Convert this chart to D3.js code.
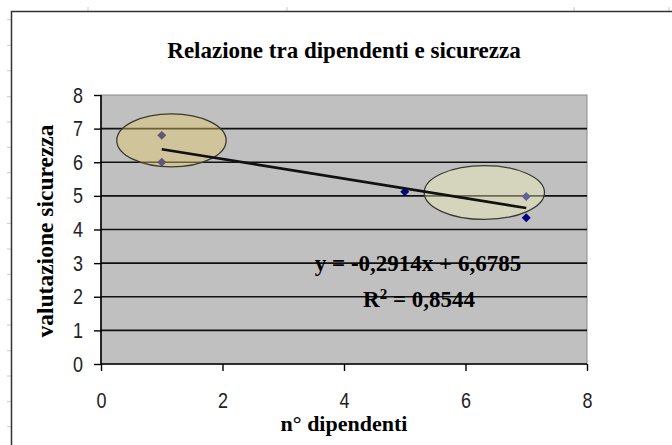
<!DOCTYPE html>
<html>
<head>
<meta charset="utf-8">
<script src="https://cdn.jsdelivr.net/npm/d3@7"></script>
<style>
  html, body { margin: 0; padding: 0; background: #fff; }
  svg { display: block; }
</style>
</head>
<body>
<svg id="chart" width="672" height="445"></svg>
<script>
// data
const dipendenti = [1, 1, 5, 7, 7];
const sicurezza = [6.8, 6.0, 5.12, 4.98, 4.35];
const xTicks = [0, 2, 4, 6, 8];
const yTicks = [0, 1, 2, 3, 4, 5, 6, 7, 8];
const gridValues = [1, 2, 3, 4, 5, 6, 7];
const trendSlope = -0.2914;
const trendIntercept = 6.6785;
const trendRange = [1, 7];
const equationLabel = 'y = -0,2914x + 6,6785';
const r2Value = '0,8544';
// highlighted groups: centre and radii in data units
const highlightX = [1.16, 6.31];
const highlightY = [6.65, 5.1];
const highlightRx = [0.9, 0.99];
const highlightRy = [0.79, 0.8];
const highlightFill = ['#e8cc66', '#f6f6bc'];
const highlightOpacity = [0.42, 0.4];
// spreadsheet cell marks around the chart frame
const rowMarks = [19.7, 45.3, 70.7, 96.7, 122, 147.3, 172.7, 198, 223.3, 249, 274.3, 299.7, 325, 350.7, 376, 401.7, 426.7];
const colMarks = [88, 287, 574, 669];

const svg = d3.select('#chart');
const width = 672, height = 445;
const plot = { left: 101, right: 587, top: 95, bottom: 364 };

const x = d3.scaleLinear().domain([0, 8]).range([plot.left, plot.right]);
const y = d3.scaleLinear().domain([0, 8]).range([plot.bottom, plot.top]);

svg.append('rect').attr('width', width).attr('height', height).attr('fill', '#fff');

// sheet marks
svg.append('g').selectAll('line').data(rowMarks).enter().append('line')
    .attr('x1', 7).attr('x2', 11).attr('y1', d => d).attr('y2', d => d)
    .attr('stroke', '#c8c8c8').attr('stroke-width', 1);
svg.append('g').selectAll('line').data(colMarks).enter().append('line')
    .attr('y1', 7).attr('y2', 11).attr('x1', d => d).attr('x2', d => d)
    .attr('stroke', '#c8c8c8').attr('stroke-width', 1);

// chart frame (left and top edges only are visible)
svg.append('path')
    .attr('d', `M11.5,${height} V11.5 H${width}`)
    .attr('fill', 'none').attr('stroke', '#333').attr('stroke-width', 1.5);

// plot area
svg.append('rect')
    .attr('x', plot.left).attr('y', plot.top)
    .attr('width', plot.right - plot.left).attr('height', plot.bottom - plot.top)
    .attr('fill', '#c0c0c0').attr('stroke', '#8a8a8a').attr('stroke-width', 1);

svg.append('g').selectAll('line').data(gridValues).enter().append('line')
    .attr('x1', plot.left).attr('x2', plot.right)
    .attr('y1', d => y(d)).attr('y2', d => y(d))
    .attr('stroke', '#111').attr('stroke-width', 1.6);

// axes - the sheet font is tall and narrow, so squeeze the digits
const tickFont = '"Liberation Sans", Arial, sans-serif';
const yAxis = svg.append('g')
    .attr('transform', `translate(${plot.left},0)`)
    .call(d3.axisLeft(y).tickValues(yTicks).tickSize(7).tickPadding(11).tickFormat(d3.format('d')));
const xAxis = svg.append('g')
    .attr('transform', `translate(0,${plot.bottom})`)
    .call(d3.axisBottom(x).tickValues(xTicks).tickSize(7).tickPadding(21).tickFormat(d3.format('d')));
[xAxis, yAxis].forEach(a => {
    a.select('.domain').attr('stroke', '#000').attr('stroke-width', 1.6);
    a.selectAll('.tick line').attr('stroke', '#000').attr('stroke-width', 1.4);
    a.selectAll('.tick text')
        .attr('fill', '#222')
        .attr('textLength', 10)
        .attr('lengthAdjust', 'spacingAndGlyphs')
        .style('font-family', tickFont)
        .style('font-size', '22px');
});
xAxis.select('.domain').attr('d', `M${plot.left},0H${plot.right}`);
yAxis.select('.domain').attr('d', `M0,${plot.top}V${plot.bottom}`);

// data points
svg.append('g').selectAll('path').data(dipendenti).enter().append('path')
    .attr('d', d3.symbol().type(d3.symbolSquare).size(40))
    .attr('transform', (d, i) => `translate(${x(d)},${y(sicurezza[i])}) rotate(45)`)
    .attr('fill', '#000080');

// highlight ellipses drawn over the points
highlightX.forEach((cx, i) => {
    svg.append('ellipse')
        .attr('cx', x(cx)).attr('cy', y(highlightY[i]))
        .attr('rx', x(highlightRx[i]) - x(0)).attr('ry', y(0) - y(highlightRy[i]))
        .attr('fill', highlightFill[i]).attr('fill-opacity', highlightOpacity[i])
        .attr('stroke', '#3a3a30').attr('stroke-width', 1.3);
});

// linear trendline
svg.append('line')
    .attr('x1', x(trendRange[0])).attr('y1', y(trendSlope * trendRange[0] + trendIntercept))
    .attr('x2', x(trendRange[1])).attr('y2', y(trendSlope * trendRange[1] + trendIntercept))
    .attr('stroke', '#111').attr('stroke-width', 2.6);

// equation labels
const serif = '"Liberation Serif", "Times New Roman", serif';
svg.append('text')
    .attr('x', 418).attr('y', 271)
    .attr('text-anchor', 'middle')
    .style('font-family', serif).style('font-weight', 'bold').style('font-size', '23px')
    .text(equationLabel);
const r2 = svg.append('text')
    .attr('x', 419).attr('y', 307)
    .attr('text-anchor', 'middle')
    .style('font-family', serif).style('font-weight', 'bold').style('font-size', '23px');
r2.append('tspan').text('R');
r2.append('tspan').attr('dy', -8).style('font-size', '15px').text('2');
r2.append('tspan').attr('dy', 8).text(' = ' + r2Value);

// titles
svg.append('text')
    .attr('x', 344).attr('y', 58)
    .attr('text-anchor', 'middle')
    .style('font-family', serif).style('font-weight', 'bold').style('font-size', '23px')
    .text('Relazione tra dipendenti e sicurezza');
svg.append('text')
    .attr('x', 344).attr('y', 431)
    .attr('text-anchor', 'middle')
    .style('font-family', serif).style('font-weight', 'bold').style('font-size', '22px')
    .text('n° dipendenti');
svg.append('text')
    .attr('transform', `translate(53,231) rotate(-90)`)
    .attr('text-anchor', 'middle')
    .style('font-family', serif).style('font-weight', 'bold').style('font-size', '23.5px')
    .text('valutazione sicurezza');
</script>
</body>
</html>
